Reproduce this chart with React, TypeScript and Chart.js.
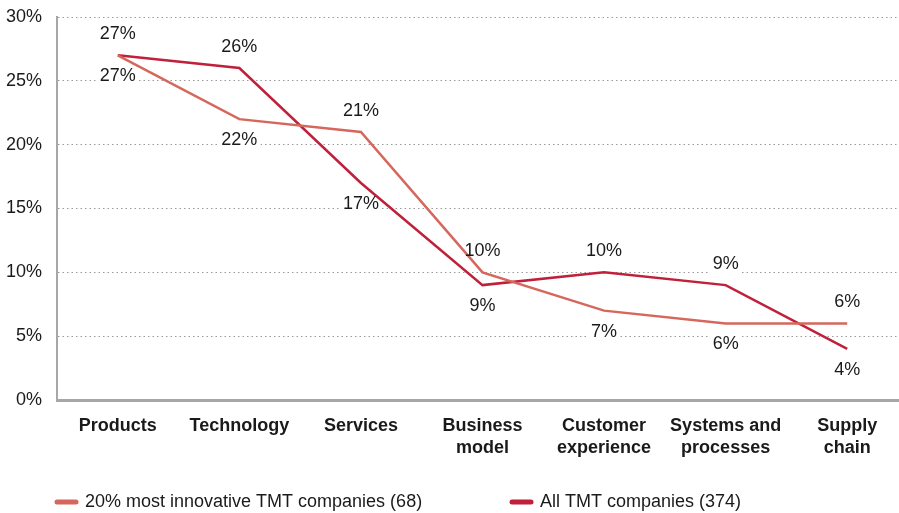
import React, { useEffect, useRef } from "react";
import { Chart, registerables } from "chart.js";

Chart.register(...registerables);

const categories: string[][] = [
  ["Products"],
  ["Technology"],
  ["Services"],
  ["Business", "model"],
  ["Customer", "experience"],
  ["Systems and", "processes"],
  ["Supply", "chain"],
];
const innovativeLabel = "20% most innovative TMT companies (68)";
const allLabel = "All TMT companies (374)";
const innovative = [27, 22, 21, 10, 7, 6, 6];
const allTmt = [27, 26, 17, 9, 10, 9, 4];
const innovativeLabelPos = ["below", "below", "above", "above", "below", "below", "above"];
const allLabelPos = ["above", "above", "below", "below", "above", "above", "below"];
const yMin = 0;
const yMax = 30;
const yStep = 5;

const FONT = "'Liberation Sans', Arial, Helvetica, sans-serif";
const LIGHT = "#d5675c";
const DARK = "#c0203a";
const TEXT = "#1a1a1a";
const FS = 18;

const labelPositions = [innovativeLabelPos, allLabelPos];

const dataLabelPlugin = {
  id: "dataLabels",
  beforeDatasetsDraw(chart: any) {
    const ctx = chart.ctx;
    ctx.save();
    ctx.font = `${FS}px ${FONT}`;
    chart.data.datasets.forEach((ds: any, di: number) => {
      const meta = chart.getDatasetMeta(di);
      meta.data.forEach((pt: any, i: number) => {
        const text = ds.data[i] + "%";
        const w = ctx.measureText(text).width;
        const dy = labelPositions[di][i] === "above" ? -21 : 21;
        ctx.fillStyle = "#ffffff";
        ctx.fillRect(pt.x - w / 2 - 3, pt.y + dy - 10, w + 6, 20);
      });
    });
    ctx.restore();
  },
  afterDatasetsDraw(chart: any) {
    const ctx = chart.ctx;
    ctx.save();
    ctx.font = `${FS}px ${FONT}`;
    ctx.fillStyle = TEXT;
    ctx.textAlign = "center";
    ctx.textBaseline = "middle";
    chart.data.datasets.forEach((ds: any, di: number) => {
      const meta = chart.getDatasetMeta(di);
      meta.data.forEach((pt: any, i: number) => {
        const text = ds.data[i] + "%";
        const dy = labelPositions[di][i] === "above" ? -21 : 21;
        ctx.fillText(text, pt.x, pt.y + dy);
      });
    });
    ctx.restore();
  },
};

const legendPlugin = {
  id: "customLegend",
  afterDraw(chart: any) {
    const ctx = chart.ctx;
    const xs = [55, 510];
    const y = 502;
    ctx.save();
    chart.data.datasets.forEach((ds: any, di: number) => {
      const x = xs[di];
      ctx.strokeStyle = ds.borderColor;
      ctx.lineWidth = 5;
      ctx.lineCap = "round";
      ctx.beginPath();
      ctx.moveTo(x + 2, y);
      ctx.lineTo(x + 21, y);
      ctx.stroke();
      ctx.font = `${FS}px ${FONT}`;
      ctx.fillStyle = TEXT;
      ctx.textAlign = "left";
      ctx.textBaseline = "middle";
      ctx.fillText(ds.label, x + 30, y);
    });
    ctx.restore();
  },
};

function LineChart() {
  const ref = useRef<HTMLCanvasElement | null>(null);
  useEffect(() => {
    if (!ref.current) return;
    const chart = new Chart(ref.current, {
      type: "line",
      data: {
        labels: categories,
        datasets: [
          {
            label: innovativeLabel,
            data: innovative,
            borderColor: LIGHT,
            backgroundColor: LIGHT,
            borderWidth: 2.5,
            pointRadius: 0,
            tension: 0,
          },
          {
            label: allLabel,
            data: allTmt,
            borderColor: DARK,
            backgroundColor: DARK,
            borderWidth: 2.5,
            pointRadius: 0,
            tension: 0,
          },
        ],
      },
      options: {
        animation: false,
        responsive: true,
        maintainAspectRatio: false,
        layout: { padding: { top: 17, right: 0, bottom: 0, left: 0 } },
        plugins: {
          legend: { display: false },
          tooltip: { enabled: false },
        },
        scales: {
          x: {
            type: "category",
            offset: true,
            grid: { display: false, drawTicks: false },
            border: { display: true, color: "#a7a7a9", width: 3 },
            ticks: {
              color: TEXT,
              font: { family: FONT, size: FS, weight: "bold", lineHeight: 1.22 },
              padding: 15,
              maxRotation: 0,
              autoSkip: false,
            },
            afterFit(scale: any) {
              scale.height = 113;
            },
          },
          y: {
            min: yMin,
            max: yMax,
            grid: {
              color: "#9a9a9a",
              lineWidth: 1,
              drawTicks: false,
            },
            border: { display: true, color: "#a7a7a9", width: 2, dash: [1.5, 3] },
            ticks: {
              stepSize: yStep,
              color: TEXT,
              padding: 15,
              font: { family: FONT, size: FS },
              callback: (v: any) => v + "%",
            },
            afterFit(scale: any) {
              scale.width = 57;
              scale.paddingTop = 0;
              scale.paddingBottom = 0;
            },
          },
        },
      },
      plugins: [dataLabelPlugin, legendPlugin],
    } as any);
    return () => chart.destroy();
  }, []);
  return <canvas ref={ref} />;
}

export default function App() {
  return (
    <div
      style={{
        position: "fixed",
        left: 0,
        top: 0,
        width: 908,
        height: 513,
        background: "#ffffff",
      }}
    >
      <LineChart />
    </div>
  );
}
